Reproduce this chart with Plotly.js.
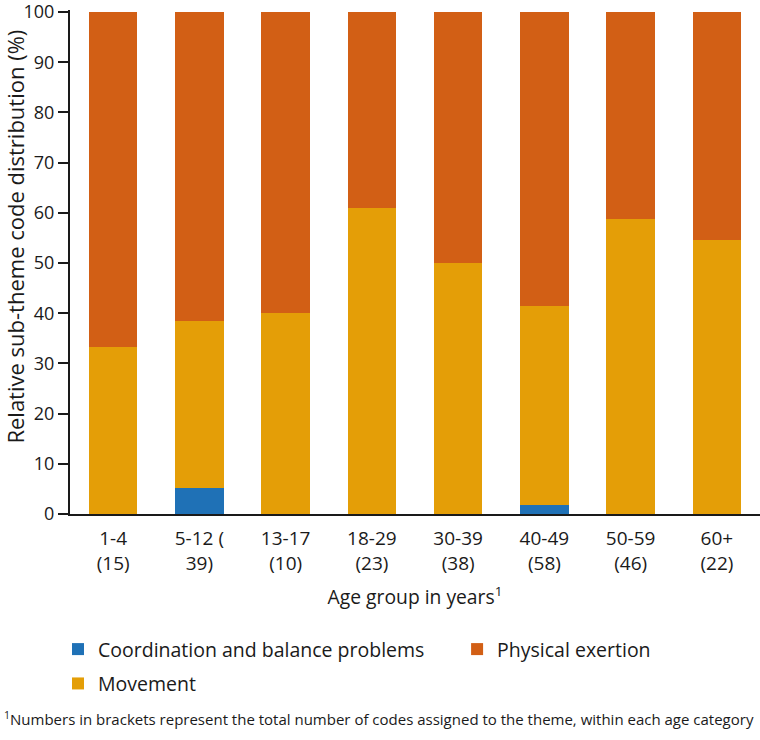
<!DOCTYPE html>
<html>
<head>
<meta charset="utf-8">
<script src="https://cdn.plot.ly/plotly-3.0.1.min.js"></script>
<style>html,body{margin:0;padding:0;background:#fff;}#chart{width:760px;height:740px;}</style>
</head>
<body>
<div id="chart"></div>
<script>
// Data
const ageGroups = ["1-4", "5-12", "13-17", "18-29", "30-39", "40-49", "50-59", "60+"];
const tickLabels = ["1-4<br>(15)", "5-12 (<br>39)", "13-17<br>(10)", "18-29<br>(23)", "30-39<br>(38)", "40-49<br>(58)", "50-59<br>(46)", "60+<br>(22)"];
const yTicks = [0, 10, 20, 30, 40, 50, 60, 70, 80, 90, 100];
const coordination = [0, 5.1, 0, 0, 0, 1.7, 0, 0];
const movement = [33.3, 33.4, 40.0, 60.9, 50.0, 39.7, 58.7, 54.5];
const physical = [66.7, 61.5, 60.0, 39.1, 50.0, 58.6, 41.3, 45.5];
const seriesNames = ["Coordination and balance problems", "Movement", "Physical exertion"];
const yTitle = "Relative sub-theme code distribution (%)";
const xTitle = "Age group in years<sup>1</sup>";
const footnote = "<sup>1</sup>Numbers in brackets represent the total number of codes assigned to the theme, within each age category";

const FONT = "Open Sans, Noto Sans, sans-serif";
const TXT = "#1a1a1a";

const traces = [
  {type: "bar", name: seriesNames[0], x: ageGroups, y: coordination, marker: {color: "#1f71b6"}, legend: "legend", legendgroup: "a"},
  {type: "bar", name: seriesNames[1], x: ageGroups, y: movement, marker: {color: "#e49e07"}, legend: "legend", legendgroup: "b"},
  {type: "bar", name: seriesNames[2], x: ageGroups, y: physical, marker: {color: "#d25f15"}, legend: "legend2", legendgroup: "c"}
];

// plot area: y from 10px (top) to 514px (bottom), height 504
const layout = {
  width: 760, height: 740,
  margin: {l: 70, r: 0, t: 10, b: 226, pad: 0},
  paper_bgcolor: "#fff", plot_bgcolor: "#fff",
  font: {family: FONT, size: 18, color: TXT},
  barmode: "stack",
  bargap: 0.44,
  showlegend: true,
  xaxis: {
    type: "category",
    categoryorder: "array", categoryarray: ageGroups,
    tickmode: "array", tickvals: ageGroups, ticktext: tickLabels,
    range: [-0.5, 7.5],
    showline: true, linecolor: "#1a1a1a", linewidth: 2,
    ticks: "", showgrid: false, zeroline: false,
    ticklabelstandoff: 6,
    tickfont: {family: FONT, size: 19, color: TXT},
    title: {text: xTitle, font: {family: FONT, size: 19.3, color: TXT}, standoff: 16}
  },
  yaxis: {
    range: [0, 100.4],
    tickmode: "array", tickvals: yTicks,
    ticklabeloverflow: "allow",
    showline: true, linecolor: "#1a1a1a", linewidth: 2,
    ticks: "outside", ticklen: 10, tickwidth: 2, tickcolor: "#1a1a1a",
    showgrid: false, zeroline: false,
    tickfont: {family: FONT, size: 18, color: TXT}
  },
  legend: {
    x: -0.0174, y: -0.23, xanchor: "left", yanchor: "top",
    orientation: "v", traceorder: "grouped", tracegroupgap: 6,
    font: {family: FONT, size: 19.5, color: TXT},
    bgcolor: "rgba(0,0,0,0)"
  },
  legend2: {
    x: 0.561, y: -0.23, xanchor: "left", yanchor: "top",
    orientation: "v",
    font: {family: FONT, size: 19.5, color: TXT},
    bgcolor: "rgba(0,0,0,0)"
  },
  annotations: [
    {
      text: yTitle, showarrow: false, textangle: -90,
      xref: "paper", yref: "paper",
      x: -0.08, y: 0.55, xanchor: "center", yanchor: "middle",
      font: {family: FONT, size: 22, color: TXT}
    },
    {
      text: footnote, showarrow: false,
      xref: "paper", yref: "paper",
      x: -0.099, y: -0.405, xanchor: "left", yanchor: "middle",
      font: {family: FONT, size: 15, color: TXT}
    }
  ]
};

Plotly.newPlot("chart", traces, layout, {displayModeBar: false, staticPlot: true});
</script>
</body>
</html>
